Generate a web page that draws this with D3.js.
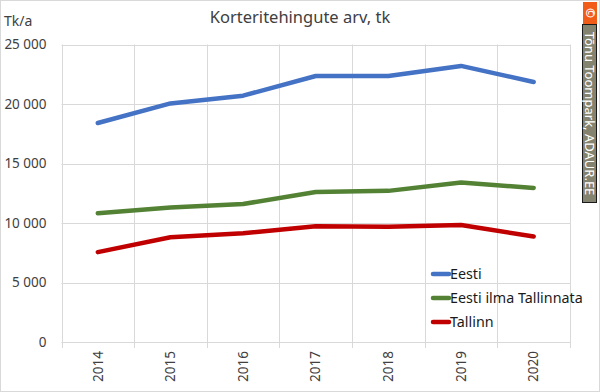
<!DOCTYPE html>
<html><head><meta charset="utf-8">
<script src="https://cdn.jsdelivr.net/npm/d3@7"></script>
<style>
html,body{margin:0;padding:0;background:#fff;}
svg{display:block;font-family:"Noto Sans","Open Sans",sans-serif;}
</style></head>
<body>
<svg id="c" width="600" height="392"></svg>
<script>
const years = ["2014","2015","2016","2017","2018","2019","2020"];
const eesti = [18400, 20050, 20700, 22350, 22350, 23200, 21850];
const eestiIlmaTallinnata = [10820, 11300, 11600, 12600, 12700, 13400, 12950];
const tallinn = [7550, 8800, 9130, 9730, 9680, 9830, 8870];
const seriesNames = ["Eesti", "Eesti ilma Tallinnata", "Tallinn"];
const seriesColors = ["#4472C4", "#548235", "#C00000"];
const yTicks = [0, 5000, 10000, 15000, 20000, 25000];

(function(){
const svg = d3.select("#c");
const W = 600, H = 392;
const mLeft = 61.5, mRight = 570, mTop = 44.5, mBottom = 342;

svg.append("rect").attr("x",0.5).attr("y",0.5).attr("width",W-1).attr("height",H-1)
  .attr("fill","#fff").attr("stroke","#d9d9d9");

const x = d3.scaleBand().domain(years).range([mLeft, mRight]);
const y = d3.scaleLinear().domain([0, 25000]).range([mBottom, mTop]);

const fmt = v => d3.format(",")(v).replace(/,/g, "\u00a0");

svg.append("g").selectAll("line").data(yTicks.filter(d=>d>0)).join("line")
  .attr("x1", mLeft).attr("x2", mRight)
  .attr("y1", d=>Math.round(y(d))+0.5).attr("y2", d=>Math.round(y(d))+0.5)
  .attr("stroke", "#d9d9d9").attr("stroke-width",1);

const bounds = years.map(d=>x(d)).concat([mRight]);
svg.append("g").selectAll("line").data(bounds).join("line")
  .attr("x1", d=>Math.round(d)+0.5).attr("x2", d=>Math.round(d)+0.5)
  .attr("y1", mTop).attr("y2", mBottom+6)
  .attr("stroke", "#d9d9d9").attr("stroke-width",1);

svg.append("line").attr("x1", mLeft).attr("x2", mRight)
  .attr("y1", Math.round(mBottom)+0.5).attr("y2", Math.round(mBottom)+0.5)
  .attr("stroke", "#d9d9d9");

const yAxis = d3.axisLeft(y).tickValues(yTicks).tickFormat(fmt).tickSize(0).tickPadding(0);
const ya = svg.append("g").attr("transform", `translate(${mLeft-15},0)`).call(yAxis);
ya.select(".domain").remove();
ya.selectAll("text").attr("font-size", 13.5).attr("fill", "#404040")
  .attr("font-family", '"Noto Sans","Open Sans",sans-serif');

const xAxis = d3.axisBottom(x).tickSize(0).tickPadding(0);
const xa = svg.append("g").attr("transform", `translate(0,${mBottom})`).call(xAxis);
xa.select(".domain").remove();
xa.selectAll("text").attr("font-size", 13.5).attr("fill", "#404040")
  .attr("font-family", '"Noto Sans","Open Sans",sans-serif')
  .attr("transform", "rotate(-90)").attr("text-anchor","end")
  .attr("x", -9).attr("y", 0).attr("dy", "0.35em");

const allSeries = [eesti, eestiIlmaTallinnata, tallinn];
const line = d3.line().x((d,i)=>x(years[i]) + x.bandwidth()/2).y(d=>y(d));
allSeries.forEach((s, k) => {
  svg.append("path").datum(s).attr("d", line).attr("fill","none")
    .attr("stroke", seriesColors[k]).attr("stroke-width", 4.5)
    .attr("stroke-linecap","round").attr("stroke-linejoin","round");
});

svg.append("text").attr("x", 300).attr("y", 23).attr("text-anchor","middle")
  .attr("font-size", 16.5).attr("fill","#404040").text("Korteritehingute arv, tk");
svg.append("text").attr("x", 4).attr("y", 26).attr("font-size", 14).attr("fill","#404040").text("Tk/a");

const lg = svg.append("g");
seriesNames.forEach((n, k) => {
  const yy = 274 + k*24;
  lg.append("line").attr("x1", 433).attr("x2", 449).attr("y1", yy).attr("y2", yy)
    .attr("stroke", seriesColors[k]).attr("stroke-width", 4.5).attr("stroke-linecap","round");
  lg.append("text").attr("x", 450).attr("y", yy).attr("dy","0.35em").attr("font-size", 14.3)
    .attr("fill","#1a1a1a").text(n);
});

svg.append("rect").attr("x",583).attr("y",2).attr("width",14).attr("height",22).attr("fill","#f25c19");
svg.append("text").attr("transform","translate(590,13) rotate(90)").attr("text-anchor","middle")
  .attr("dy","0.35em").attr("font-size",12).attr("fill","#fff").attr("font-weight","bold").text("©");
svg.append("rect").attr("x",582.5).attr("y",24.5).attr("width",14).attr("height",178)
  .attr("fill","#83836f").attr("stroke","#1a1a1a").attr("stroke-width",1);
svg.append("text").attr("transform","translate(590,113.5) rotate(90)").attr("text-anchor","middle")
  .attr("dy","0.35em").attr("font-size",13).attr("fill","#fff").text("Tõnu Toompark, ADAUR.EE");
})();
</script>
</body></html>
